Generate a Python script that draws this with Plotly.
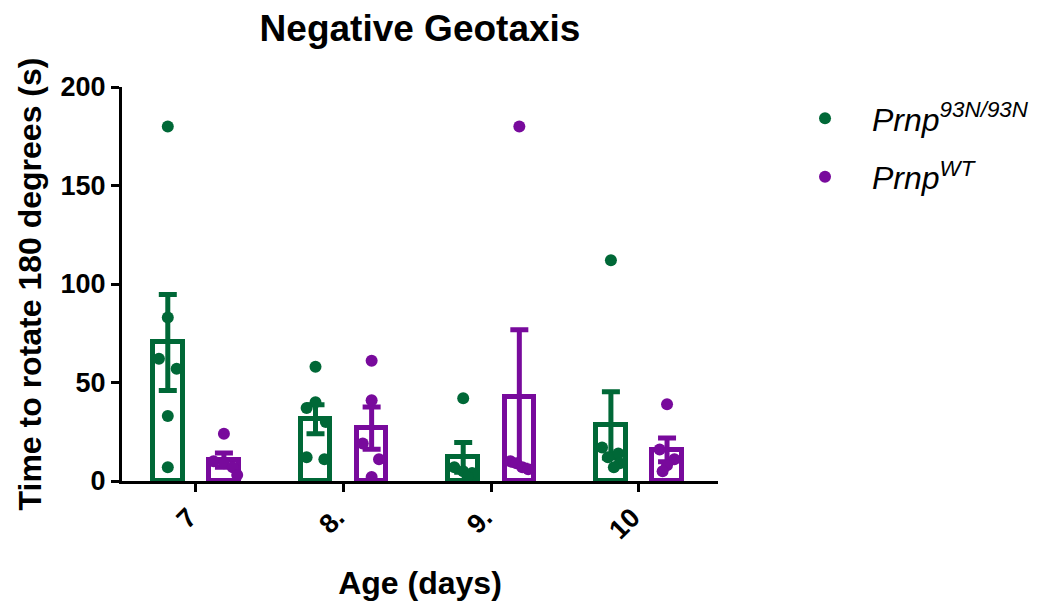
import numpy as np
import plotly.graph_objects as go

# ---- data ----
day_labels = ["7", "8.", "9.", "10"]
green_name = "<i>Prnp</i><sup><i>93N/93N</i></sup>"
purple_name = "<i>Prnp</i><sup><i>WT</i></sup>"

green_d7 = [180, 83, 62, 57, 33, 7]
green_d8 = [58, 40, 37, 30, 12, 11]
green_d9 = [42, 7, 5, 4, 2]
green_d10 = [112, 17, 14, 12, 9, 7]

purple_d7 = [24, 10, 9, 7, 3]
purple_d8 = [61, 41, 19, 11, 2]
purple_d9 = [180, 10, 9, 7, 6]
purple_d10 = [39, 16, 11, 8, 5]

green_vals = [green_d7, green_d8, green_d9, green_d10]
purple_vals = [purple_d7, purple_d8, purple_d9, purple_d10]

# ---- style (positions of scatter jitter, colours) ----
GREEN = "#006837"
PURPLE = "#780A9C"
FONT = "Liberation Sans"
group_shift = {"g": -0.19, "p": 0.19}
bar_w = 0.2
green_jit = [[0, 0, -0.06, 0.06, 0, 0],
             [0, 0, -0.06, 0.07, -0.06, 0.06],
             [0, -0.06, 0, 0.06, 0.03],
             [0, -0.06, 0.05, -0.02, 0.06, 0.02]]
purple_jit = [[0, -0.07, 0, 0.06, 0.09],
              [0, 0, -0.06, 0.05, 0],
              [0, -0.06, -0.02, 0.02, 0.06],
              [0, -0.05, 0.05, 0, -0.03]]


def mean_sem(vals):
    a = np.asarray(vals, dtype=float)
    return a.mean(), a.std(ddof=1) / np.sqrt(len(a))


xs = list(range(len(day_labels)))
fig = go.Figure()

series = [(green_vals, green_jit, GREEN, "g", green_name),
          (purple_vals, purple_jit, PURPLE, "p", purple_name)]

for vals, jit, col, key, name in series:
    ms = [mean_sem(v) for v in vals]
    fig.add_trace(go.Bar(
        x=xs, y=[m for m, s in ms], width=bar_w, offset=group_shift[key] - bar_w / 2,
        marker=dict(color="rgba(255,255,255,0)", line=dict(color=col, width=5)),
        error_y=dict(type="data", array=[s for m, s in ms], color=col, thickness=5, width=9),
        showlegend=False, hoverinfo="skip"))

for vals, jit, col, key, name in series:
    px_, py_ = [], []
    for i, (v, j) in enumerate(zip(vals, jit)):
        for val, jj in zip(v, j):
            px_.append(i + group_shift[key] + jj)
            py_.append(val)
    fig.add_trace(go.Scatter(
        x=px_, y=py_, mode="markers", name=name, legendgroup=key,
        marker=dict(color=col, size=12), cliponaxis=False))

fig.update_layout(
    width=1044, height=601,
    margin=dict(l=122, r=326, t=87, b=120, autoexpand=False),
    plot_bgcolor="white", paper_bgcolor="white",
    font=dict(family=FONT, color="black"),
    title=dict(text="Negative Geotaxis", x=0.5, xref="paper", xanchor="center",
               y=1 - 28 / 601, yref="container", yanchor="middle",
               font=dict(size=37, weight="bold", family=FONT)),
    legend=dict(x=1.1007, y=0.99, xanchor="left", yanchor="top",
                font=dict(size=32, family=FONT), tracegroupgap=14,
                itemwidth=84, bgcolor="rgba(0,0,0,0)"),
    bargap=0,
)

fig.update_xaxes(
    range=[-0.5, 3.535], tickmode="array", tickvals=xs, ticktext=day_labels,
    tickangle=-45, showline=True, linecolor="black", linewidth=3,
    ticks="outside", ticklen=8, tickwidth=3, tickcolor="black",
    showgrid=False, zeroline=False, automargin=False,
    ticklabelshift=-7, ticklabelstandoff=-1,
    tickfont=dict(size=27, weight="bold", family=FONT),
    title=dict(text="Age (days)", font=dict(size=32, weight="bold", family=FONT), standoff=28),
)
fig.update_yaxes(
    range=[0, 200], tickmode="array", tickvals=[0, 50, 100, 150, 200],
    showline=True, linecolor="black", linewidth=3,
    ticks="outside", ticklen=8, tickwidth=3, tickcolor="black",
    showgrid=False, zeroline=False, automargin=False,
    tickfont=dict(size=27, weight="bold", family=FONT),
    title=dict(text="Time to rotate 180 degrees (s)",
               font=dict(size=32, weight="bold", family=FONT), standoff=10),
)

fig.write_html("out.html")
